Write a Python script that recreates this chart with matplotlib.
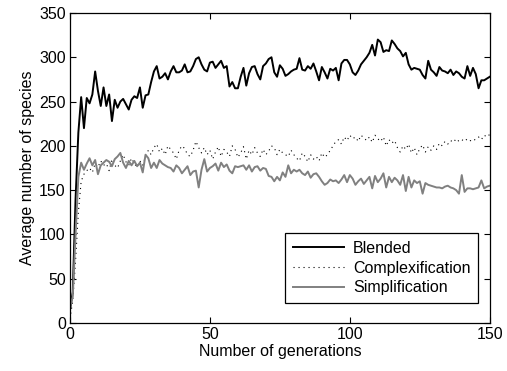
import numpy as np
import matplotlib
matplotlib.use('Agg')
import matplotlib.pyplot as plt

plt.rcParams['font.family'] = ['Liberation Sans', 'DejaVu Sans']

# --- Data ---
generations = np.arange(0, 151)

blended = [
    15, 35, 140, 215, 255, 220, 254, 248, 258, 284,
    262, 245, 266, 245, 258, 228, 252, 243, 250, 253,
    247, 241, 252, 256, 254, 266, 243, 257, 258, 272,
    284, 290, 276, 278, 282, 275, 284, 290, 283, 283,
    285, 292, 283, 284, 290, 298, 300, 292, 286, 284,
    294, 295, 288, 292, 296, 288, 290, 267, 272, 265,
    265, 278, 288, 268, 282, 289, 290, 281, 275, 290,
    293, 298, 300, 283, 278, 291, 287, 279, 281, 284,
    286, 287, 299, 286, 285, 290, 287, 293, 284, 274,
    289, 283, 276, 287, 285, 288, 274, 293, 297, 297,
    292, 283, 280, 285, 292, 296, 300, 305, 314, 302,
    320, 317, 306, 308, 307, 319, 315, 310, 307, 301,
    305, 292, 286, 288, 287, 286, 280, 276, 296, 286,
    283, 279, 289, 285, 284, 282, 286, 280, 284, 282,
    278, 276, 290, 279, 288, 281, 265, 274, 274, 276,
    278,
]

complexification = [
    5, 25, 70, 125, 160, 168, 172, 175, 170, 180,
    176, 183, 178, 180, 172, 185, 178, 175, 183, 190,
    182, 178, 186, 180, 176, 183, 178, 188, 195, 190,
    198, 202, 193, 197, 190, 200, 196, 192, 185, 195,
    200, 197, 190, 188, 195, 205, 198, 192, 198, 190,
    195, 185, 193, 199, 188, 196, 193, 188, 200, 196,
    187, 192, 199, 185, 195, 190, 198, 192, 188, 196,
    190, 194, 200, 198, 190, 196, 192, 190, 188, 195,
    190, 186, 183, 192, 188, 182, 190, 185, 188, 183,
    192, 187, 190, 195, 200, 205, 207, 202, 210, 206,
    212, 208, 210, 205, 212, 209, 206, 210, 204, 212,
    208, 205, 210, 200, 207, 203, 206, 198, 193, 200,
    196, 202, 192, 198, 190, 197, 201, 193, 199, 195,
    200, 196, 203, 200, 205, 202, 206, 204, 208, 205,
    207, 205, 208, 206, 205, 208, 210, 207, 212, 210,
    213,
]

simplification = [
    17, 30, 100, 165, 181, 173, 180, 186, 178, 184,
    168, 178, 181, 184, 182, 177, 185, 188, 192, 181,
    175, 183, 178, 183, 177, 181, 170, 190, 186, 175,
    181, 175, 184, 180, 178, 176, 175, 171, 178, 175,
    169, 173, 177, 167, 171, 172, 153, 173, 185, 171,
    175, 177, 180, 172, 181, 176, 179, 172, 169, 177,
    176, 177, 178, 173, 178, 171, 176, 177, 172, 175,
    174, 166, 165, 160, 165, 161, 170, 165, 178, 169,
    173, 171, 173, 169, 167, 171, 164, 168, 169, 165,
    160, 156, 158, 162, 160, 161, 158, 162, 167, 159,
    167, 163, 156, 160, 163, 157, 161, 165, 152, 166,
    159, 163, 169, 153, 165, 159, 164, 161, 156, 167,
    149, 165, 153, 161, 158, 160, 146, 158, 156, 155,
    154, 153, 153, 152, 154, 155, 153, 152, 150, 146,
    167, 148, 152, 152, 151, 152, 153, 161, 152, 154,
    155,
]

# --- Plot ---
fig = plt.figure(figsize=(5.07, 3.71), dpi=100)
ax = fig.add_axes([0.138, 0.1294, 0.828, 0.8356])

ax.plot(generations, blended, color='black', lw=1.4, label='Blended')
ax.plot(generations, complexification, color='black', lw=0.8,
        linestyle=(0, (1, 3.5)), label='Complexification')
ax.plot(generations, simplification, color='#808080', lw=1.4,
        label='Simplification')

ax.set_xlim(0, 150)
ax.set_ylim(0, 350)
ax.set_xticks([0, 50, 100, 150])
ax.set_yticks(np.arange(0, 351, 50))
ax.tick_params(direction='in', top=True, right=True, labelsize=11.5,
               length=4, width=0.8, pad=3)
for s in ax.spines.values():
    s.set_linewidth(0.9)

ax.set_xlabel('Number of generations', fontsize=11.5, labelpad=1)
ax.set_ylabel('Average number of species', fontsize=11.5, labelpad=3)

leg = ax.legend(loc='lower right', bbox_to_anchor=(0.973, 0.063),
                fontsize=11.5, fancybox=False, framealpha=1,
                edgecolor='black', handlelength=3.2, borderpad=0.5,
                labelspacing=0.3, handletextpad=0.55, borderaxespad=0)
leg.get_frame().set_linewidth(0.9)

fig.savefig('out.png', dpi=100)
